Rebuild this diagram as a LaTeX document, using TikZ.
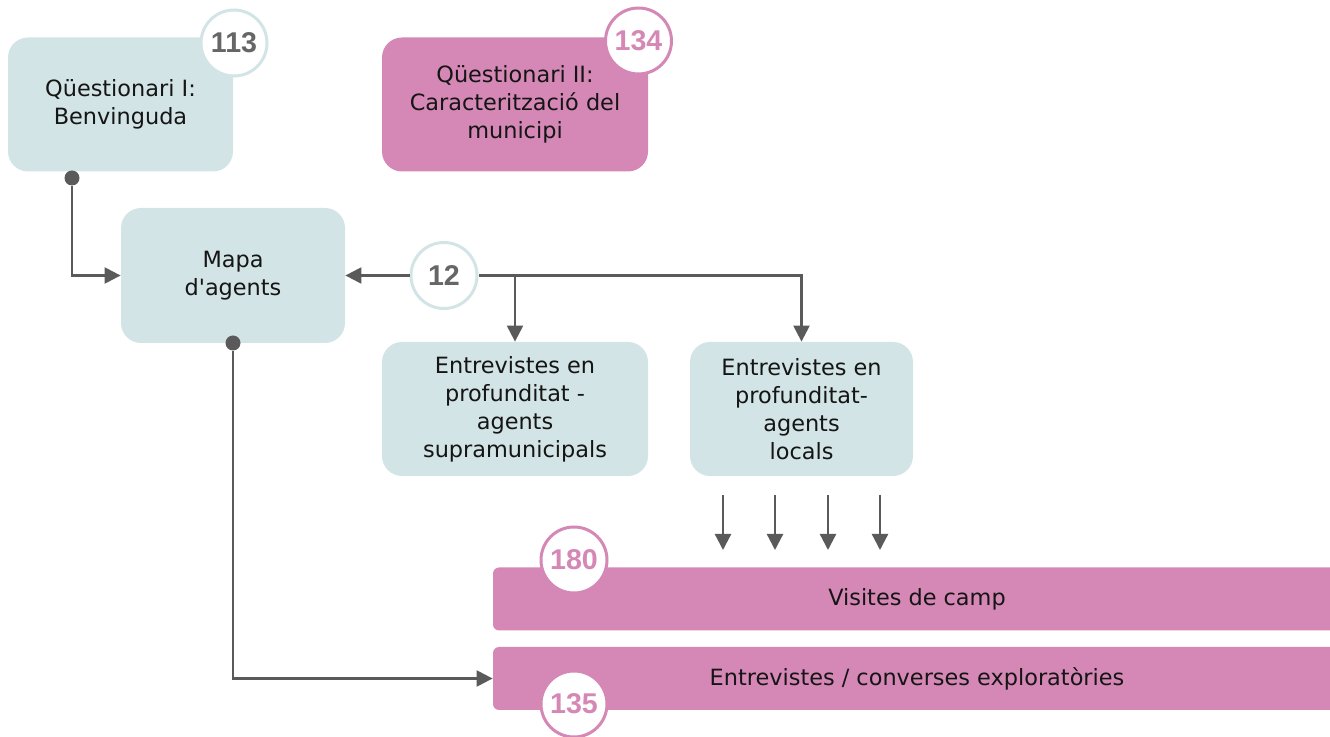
\documentclass[tikz,border=0pt]{standalone}
\usepackage{fontspec}
\setmainfont{DejaVu Sans}
\newfontfamily\numfont{Liberation Sans}
\usetikzlibrary{arrows.meta}
\definecolor{boxblue}{HTML}{D3E4E6}
\definecolor{boxpink}{HTML}{D588B5}
\definecolor{linegray}{HTML}{5A5A5A}
\definecolor{numgray}{HTML}{666666}
\definecolor{textdark}{HTML}{151515}

\begin{document}
\begin{tikzpicture}[x=0.5pt, y=-0.5pt,
    bluebox/.style={rectangle, rounded corners=10pt, fill=boxblue, align=center, text=textdark,
      inner sep=0pt, font=\fontsize{11.2}{14}\selectfont},
    pinkbox/.style={bluebox, fill=boxpink},
    barbox/.style={pinkbox, rounded corners=3pt, minimum width=424pt, minimum height=31.5pt},
    badge/.style={circle, draw=boxblue, line width=1.5pt, fill=white, minimum size=33pt,
      inner sep=0pt, text=numgray, font=\numfont\bfseries\fontsize{14.3}{15}\selectfont},
    pinkbadge/.style={badge, draw=boxpink, text=boxpink},
    link/.style={draw=linegray, line width=1.15pt, -{Triangle[length=8pt,width=8pt]}},
    startdot/.style={circle, fill=linegray, inner sep=0pt, minimum size=7.5pt}]

  \useasboundingbox (0,0) rectangle (1330,737);

  % boxes
  \node[bluebox, minimum width=112.5pt, minimum height=67pt] (q1) at (120.5,104.5) {Qüestionari I:\\Benvinguda};
  \node[pinkbox, minimum width=133pt, minimum height=67pt] (q2) at (515,104.5) {Qüestionari II:\\Caracterització del\\municipi};
  \node[bluebox, minimum width=112pt, minimum height=67.5pt] (mapa) at (233,275.5) {Mapa\\d\textquotesingle agents};
  \node[bluebox, minimum width=133pt, minimum height=67pt] (e1) at (515,409) {Entrevistes en\\profunditat -\\agents\\supramunicipals};
  \node[bluebox, minimum width=111.5pt, minimum height=67pt] (e2) at (801.5,409) {Entrevistes en\\profunditat-\\agents\\locals};
  \node[barbox] (visites) at (917,599) {Visites de camp};
  \node[barbox] (converses) at (917,678.5) {Entrevistes / converses exploratòries};

  % dots
  \node[startdot] (q1dot) at (72,178) {};
  \node[startdot] (mapadot) at (233,343) {};

  % badges
  \node[badge] (n113) at (234,43) {113};
  \node[pinkbadge] (n134) at (638.5,41) {134};
  \node[badge] (n12) at (444,275.5) {12};
  \node[pinkbadge] (n180) at (574,560) {180};
  \node[pinkbadge] (n135) at (574,704) {135};

  % connectors
  \draw[link] (q1dot) |- (mapa);
  \draw[link] (n12) -- (mapa);
  \draw[link] (n12.east) -| (e2);
  \draw[link] (n12.east -| e1) -- (e1);
  \draw[link] (mapadot) |- (converses);

  \foreach \x [count=\i] in {723,775,828,880} {
    \coordinate (top\i) at (\x,495);
    \coordinate (tip\i) at (\x,550);
    \draw[link] (top\i) -- (tip\i);
  }

\end{tikzpicture}
\end{document}
